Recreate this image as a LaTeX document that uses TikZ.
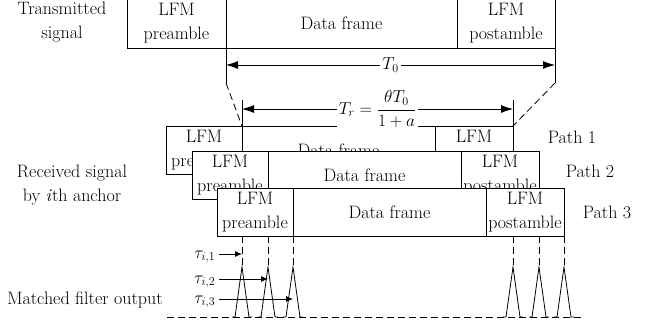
\documentclass[tikz,border=0pt]{standalone}
\usepackage{fontspec}
\usetikzlibrary{arrows.meta, positioning}
\tikzset{
  >={Latex[length=12pt,width=8pt]},
  base/.style = {draw, line width=0.8pt, fill=white, minimum height=48pt,
                 inner sep=0pt, outer sep=0pt, align=center,
                 font=\fontsize{18}{24}\selectfont},
}

\begin{document}
\begin{tikzpicture}[x=1pt, y=-1pt, line width=0.8pt,
            pre/.style     = {base, minimum width=76pt},
            dataseg/.style = {base, minimum width=193pt},
            post/.style    = {base, minimum width=78pt},
            lbl/.style     = {align=center, font=\fontsize{18}{24}\selectfont},
            guide/.style   = {dash pattern=on 7pt off 4pt},
            small/.style   = {-{Latex[length=7pt,width=6pt]}},
        ]
        \useasboundingbox (0,0) rectangle (656,325);

        \node[base, minimum width=99pt, minimum height=50pt] (tpre) at (176.5,23) {LFM\\preamble};
        \node[base, minimum width=231pt, minimum height=50pt, right=0pt of tpre] (tdata) {Data frame};
        \node[base, minimum width=98pt, minimum height=50pt, right=0pt of tdata] (tpost) {LFM\\postamble};

        \node[pre]                       (p1pre)  at (204,150) {LFM\\preamble};
        \node[dataseg, right=0pt of p1pre]  (p1data) {Data frame};
        \node[post, right=0pt of p1data]    (p1post) {LFM\\postamble};
        \node[pre]                       (p2pre)  at (230,175) {LFM\\preamble};
        \node[dataseg, right=0pt of p2pre]  (p2data) {Data frame};
        \node[post, right=0pt of p2data]    (p2post) {LFM\\postamble};
        \node[pre]                       (p3pre)  at (255,212) {LFM\\preamble};
        \node[dataseg, right=0pt of p3pre]  (p3data) {Data frame};
        \node[post, right=0pt of p3data]    (p3post) {LFM\\postamble};

        \node[lbl] (tx)    at (62,22)   {Transmitted\\signal};
        \node[lbl] (rx)    at (72,185)  {Received signal\\by \textit{i}th anchor};
        \node[lbl] (mf)    at (85,300)  {Matched filter output};
        \node[lbl] (path1) at (572,137) {Path 1};
        \node[lbl] (path2) at (590,171) {Path 2};
        \node[lbl] (path3) at (607,212) {Path 3};

        \coordinate (t0l) at (226,83);
        \coordinate (t0r) at (555,83);
        \coordinate (t0a) at (226,65);
        \coordinate (t0b) at (555,65);
        \coordinate (tra) at (242,100);
        \coordinate (trb) at (513,100);
        \coordinate (trl) at (242,109);
        \coordinate (trr) at (513,109);

        \draw (tpre.south east)  -- (t0l);
        \draw (tpost.south east) -- (t0r);
        \draw[guide] (t0l) -- (p1pre.north east);
        \draw[guide] (t0r) -- (p1post.north east);
        \draw[<->] (t0a) -- (t0b) node[midway, lbl, fill=white, inner sep=2pt] (t0) {$T_0$};
        \draw (tra) -- (p1pre.north east);
        \draw (trb) -- (p1post.north east);
        \draw[<->] (trl) -- (trr) node[midway, lbl, fill=white, inner sep=2pt] (tr) {$T_r=\displaystyle\frac{\theta T_0}{1+a}$};

        \coordinate (k1) at (242,267);
        \coordinate (k2) at (268,267);
        \coordinate (k3) at (293,267);
        \coordinate (k4) at (513,267);
        \coordinate (k5) at (539,267);
        \coordinate (k6) at (564,267);
        \coordinate (bl) at (167,317);
        \coordinate (br) at (585,317);

        \draw[guide] (p1pre.south east |- p3pre.south)   -- (k1);
        \draw[guide] (p2pre.south east |- p3pre.south)   -- (k2);
        \draw[guide] (p3pre.south east)                  -- (k3);
        \draw[guide] (p1post.south east |- p3post.south) -- (k4);
        \draw[guide] (p2post.south east |- p3post.south) -- (k5);
        \draw[guide] (p3post.south east)                 -- (k6);

        \draw[guide] (bl) -- (br);
        \draw (k1) ++(-10,50) -- ++(3,0) -- (k1) -- ++(7,50) -- ++(3,0);
        \draw (k2) ++(-10,50) -- ++(3,0) -- (k2) -- ++(7,50) -- ++(3,0);
        \draw (k3) ++(-10,50) -- ++(3,0) -- (k3) -- ++(7,50) -- ++(3,0);
        \draw (k4) ++(-10,50) -- ++(3,0) -- (k4) -- ++(7,50) -- ++(3,0);
        \draw (k5) ++(-10,50) -- ++(3,0) -- (k5) -- ++(7,50) -- ++(3,0);
        \draw (k6) ++(-10,50) -- ++(3,0) -- (k6) -- ++(7,50) -- ++(3,0);

        \coordinate (u1) at (219,254);
        \coordinate (u2) at (219,279);
        \coordinate (u3) at (219,299);
        \node[lbl, anchor=base east] (tau1) at (219,258) {$\tau_{i,1}$};
        \node[lbl, anchor=base east] (tau2) at (219,283) {$\tau_{i,2}$};
        \node[lbl, anchor=base east] (tau3) at (219,303) {$\tau_{i,3}$};
        \draw[small] (u1) -- (u1 -| k1);
        \draw[small] (u2) -- (u2 -| k2);
        \draw[small] (u3) -- (u3 -| k3);

        \end{tikzpicture}
\end{document}
